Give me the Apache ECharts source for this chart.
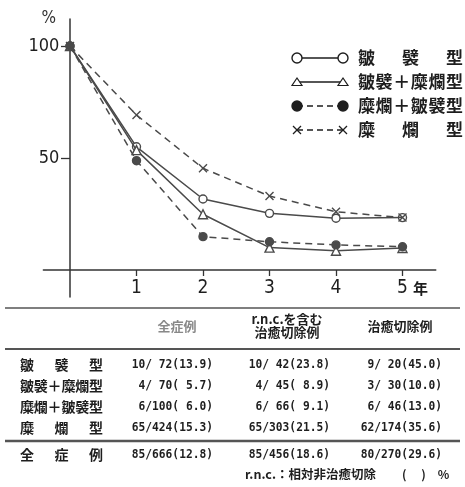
<!DOCTYPE html>
<html><head><meta charset="utf-8">
<script src="https://cdn.jsdelivr.net/npm/echarts@6/dist/echarts.min.js"></script>
<style>html,body{margin:0;padding:0;background:#fff}#c{width:465px;height:487px}</style>
</head><body><div id="c"></div>
<script>
// ---- data ----
const years = [0, 1, 2, 3, 4, 5];
const seriesNames = ['皺　襞　型', '皺襞＋糜爛型', '糜爛＋皺襞型', '糜　爛　型'];
const valsFold = [100, 55.0, 31.7, 25.3, 23.1, 23.4];
const valsFoldErosion = [100, 53.5, 24.9, 10.0, 8.6, 9.8];
const valsErosionFold = [100, 48.8, 14.9, 12.6, 11.2, 10.4];
const valsErosion = [100, 69.2, 45.4, 33.0, 26.0, 23.4];
const xTickValues = [1, 2, 3, 4, 5];
const yTickValues = [50, 100];
const yearUnit = '年';

const tableRowLabels = ['皺　襞　型', '皺襞＋糜爛型', '糜爛＋皺襞型', '糜　爛　型'];
const tableTotalLabel = '全　症　例';
const tableHeaders = ['全症例', 'r.n.c.を含む\n治癒切除例', '治癒切除例'];
const colAllCases = ['10/ 72(13.9)', ' 4/ 70( 5.7)', ' 6/100( 6.0)', '65/424(15.3)'];
const colCurativeRnc = ['10/ 42(23.8)', ' 4/ 45( 8.9)', ' 6/ 66( 9.1)', '65/303(21.5)'];
const colCurative = [' 9/ 20(45.0)', ' 3/ 30(10.0)', ' 6/ 46(13.0)', '62/174(35.6)'];
const totals = ['85/666(12.8)', '85/456(18.6)', '80/270(29.6)'];
const footnote = 'r.n.c.：相対非治癒切除';
const footUnit = '(　 )　%';

// ---- styles ----
const NARROW = '"Liberation Sans Narrow","DejaVu Sans Condensed","Liberation Sans",sans-serif';
const CJK = '"Noto Sans CJK JP","Noto Sans",sans-serif';
const MONO = '"DejaVu Sans Mono","Liberation Mono",monospace';
const LINE = '#4a4a4a';
const INK = '#1e1e1e';
const crossPath = 'path://M0,0L10,10M10,0L0,10';

const seriesDefs = [
  {vals: valsFold, symbol: 'circle', size: 8, fill: '#fff', dash: 'solid'},
  {vals: valsFoldErosion, symbol: 'triangle', size: 9, fill: '#fff', dash: 'solid'},
  {vals: valsErosionFold, symbol: 'circle', size: 8, fill: LINE, dash: [7, 5]},
  {vals: valsErosion, symbol: crossPath, size: 8, fill: 'transparent', dash: [7, 5]}
];

const series = seriesDefs.map((d, i) => ({
  name: seriesNames[i],
  type: 'line',
  data: years.map((x, k) => [x, d.vals[k]]),
  symbol: d.symbol,
  symbolSize: d.size,
  showAllSymbol: true,
  lineStyle: {color: LINE, width: 1.5, type: d.dash},
  itemStyle: {color: d.fill, borderColor: LINE, borderWidth: 1.4},
  z: 3 + i
}));

// ---- graphic helpers (legend + table) ----
const graphics = [];
function txt(x, y, text, font, color, align, sx) {
  graphics.push({type: 'text', x: x, y: y, scaleX: sx || 1,
    style: {text: text, font: font, fill: color || INK, align: align || 'left', verticalAlign: 'middle'}});
}
function spread(label, x0, width, cy, size, color) {
  const chars = label.replace(/\u3000/g, '').split('');
  const pitch = chars.length > 1 ? (width - size) / (chars.length - 1) : 0;
  chars.forEach((ch, i) => txt(x0 + i * pitch, cy, ch, 'bold ' + size + 'px ' + CJK, color));
}
function legendSymbol(kind, cx, cy, fill) {
  if (kind === 'circle') {
    graphics.push({type: 'circle', shape: {cx: cx, cy: cy, r: 5},
      style: {fill: fill, stroke: INK, lineWidth: 1.4}, z: 10});
  } else if (kind === 'triangle') {
    graphics.push({type: 'polygon', shape: {points: [[cx, cy - 4], [cx - 5, cy + 3.5], [cx + 5, cy + 3.5]]},
      style: {fill: '#fff', stroke: INK, lineWidth: 1.2}, z: 10});
  } else {
    graphics.push({type: 'polyline', shape: {points: [[cx - 4, cy - 4], [cx + 4, cy + 4]]}, style: {stroke: INK, lineWidth: 1.2}, z: 10});
    graphics.push({type: 'polyline', shape: {points: [[cx + 4, cy - 4], [cx - 4, cy + 4]]}, style: {stroke: INK, lineWidth: 1.2}, z: 10});
  }
}
const legendRows = [58, 82, 106, 130];
const legendKinds = ['circle', 'triangle', 'circle', 'cross'];
const legendFill = ['#fff', '#fff', INK, 'none'];
seriesNames.forEach((nm, i) => {
  const y = legendRows[i];
  graphics.push({type: 'line', shape: {x1: 297, y1: y, x2: 343, y2: y},
    style: {stroke: INK, lineWidth: 1.5, lineDash: seriesDefs[i].dash === 'solid' ? null : [6, 4]}, z: 9});
  legendSymbol(legendKinds[i], 297, y, legendFill[i]);
  legendSymbol(legendKinds[i], 343, y, legendFill[i]);
  spread(nm, 358, 105, y, 17);
});

// table rules
function hline(y, w) {
  graphics.push({type: 'line', shape: {x1: 5, y1: y, x2: 460, y2: y}, style: {stroke: '#555', lineWidth: w}});
}
hline(308, 1.5); hline(349, 1.8); hline(441, 2.6);

// headers
const headerCx = [177, 287, 400];
const headerFill = ['#888', INK, INK];
tableHeaders.forEach((h, i) => {
  graphics.push({type: 'text', x: headerCx[i], y: 326,
    style: {text: h, font: 'bold 13px ' + CJK, fill: headerFill[i], align: 'center', verticalAlign: 'middle', lineHeight: 13}});
});

const rowY = [365, 386, 407, 428];
const colRight = [213, 330, 442];
const cols = [colAllCases, colCurativeRnc, colCurative];
const NUMFONT = 'bold 12.5px ' + MONO;
const NUMSX = 0.9;
tableRowLabels.forEach((lb, r) => {
  spread(lb, 20, 83, rowY[r], 14);
  cols.forEach((col, c) => txt(colRight[c], rowY[r], col[r], NUMFONT, INK, 'right', NUMSX));
});
spread(tableTotalLabel, 20, 83, 455, 14);
totals.forEach((t, c) => txt(colRight[c], 455, t, NUMFONT, INK, 'right', NUMSX));
txt(245, 474, footnote, 'bold 12.5px ' + CJK);
txt(402, 474, footUnit, 'bold 12px ' + CJK);

// ---- chart ----
const chart = echarts.init(document.getElementById('c'), null, {renderer: 'canvas'});
chart.setOption({
  animation: false,
  backgroundColor: '#fff',
  grid: {left: 43.4, top: 19.1, width: 392.35, height: 277.8, containLabel: false},
  xAxis: {
    type: 'value', min: -0.4, max: 5.5,
    splitLine: {show: false},
    axisLine: {onZero: true, lineStyle: {color: '#333', width: 1.5}},
    axisTick: {customValues: xTickValues, length: 6, lineStyle: {color: '#333', width: 1.3}},
    axisLabel: {customValues: xTickValues, margin: -18, fontSize: 19, fontFamily: NARROW, color: INK,
      formatter: v => v === 5 ? '{pad|}' + v + '{u|' + yearUnit + '}' : String(v),
      rich: {pad: {width: 20}, u: {fontFamily: CJK, fontSize: 15, padding: [0, 0, 0, 5], fontWeight: 'bold'}}}
  },
  yAxis: {
    type: 'value', min: -12, max: 112,
    name: '%', nameLocation: 'end', nameGap: 1,
    nameTextStyle: {fontSize: 17, fontFamily: NARROW, color: '#333', align: 'right', verticalAlign: 'middle', padding: [0, 14, 0, 0]},
    splitLine: {show: false},
    axisLine: {onZero: true, lineStyle: {color: '#333', width: 1.5}},
    axisTick: {customValues: yTickValues, length: 9, lineStyle: {color: '#333', width: 1.3}},
    axisLabel: {customValues: yTickValues, margin: -16, fontSize: 18, fontFamily: NARROW, color: INK}
  },
  series: series,
  graphic: graphics
});
</script></body></html>
